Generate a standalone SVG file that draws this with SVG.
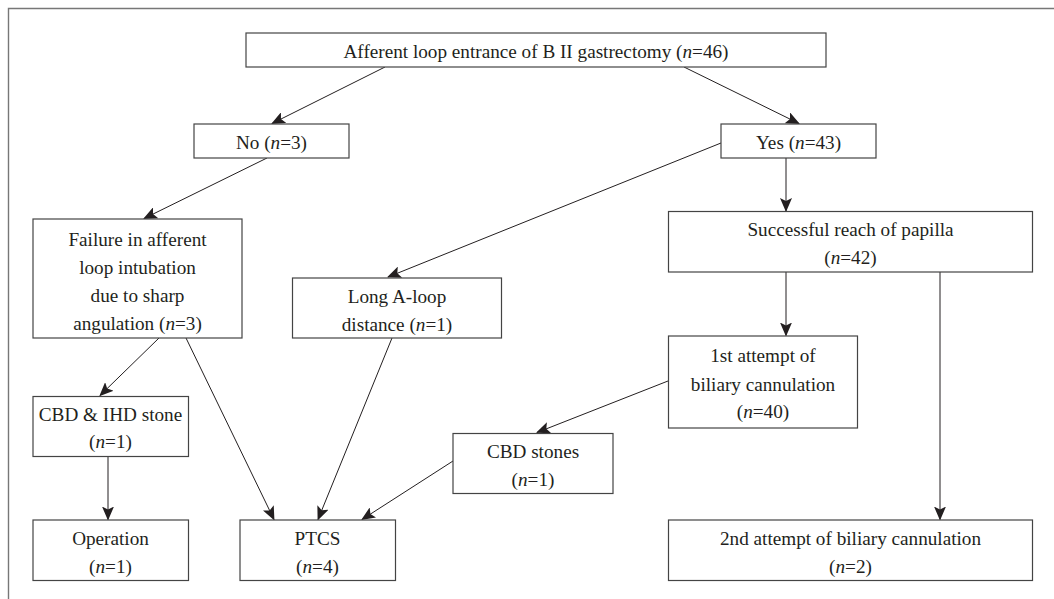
<svg xmlns="http://www.w3.org/2000/svg" width="1054" height="599" viewBox="0 0 1054 599">
<style>
.box{fill:#fff;stroke:#444;stroke-width:1.2}
.t{font-family:"Liberation Serif","Times New Roman",serif;font-size:19.2px;fill:#231f20;text-anchor:middle}
.i{font-style:italic}
.c{stroke:#231f20;stroke-width:1;fill:none;marker-end:url(#ah)}
.frame{stroke:#777;stroke-width:1.4;fill:none}
</style>
<defs>
<marker id="ah" viewBox="0 0 14 12" refX="13" refY="6" markerWidth="14" markerHeight="12" markerUnits="userSpaceOnUse" orient="auto">
<path d="M0,0 L14,6 L0,12 L3,6 Z" fill="#231f20"/>
</marker>
</defs>
<rect width="1054" height="599" fill="#fff"/>
<path class="frame" d="M8.5,600 V8.5 H1055"/>
<g id="connectors">
<line class="c" x1="385" y1="67" x2="272" y2="123.5"/>
<line class="c" x1="684" y1="67" x2="799" y2="123.5"/>
<line class="c" x1="267" y1="158" x2="144" y2="218.5"/>
<line class="c" x1="721" y1="143" x2="388" y2="277"/>
<line class="c" x1="786" y1="158" x2="786" y2="211"/>
<line class="c" x1="786" y1="272" x2="786" y2="335.5"/>
<line class="c" x1="940" y1="272" x2="940" y2="519.5"/>
<line class="c" x1="668" y1="381" x2="537" y2="432.5"/>
<line class="c" x1="159" y1="338" x2="100" y2="395.5"/>
<line class="c" x1="186" y1="338" x2="274" y2="519.5"/>
<line class="c" x1="392" y1="338" x2="318" y2="519.5"/>
<line class="c" x1="453" y1="461" x2="362" y2="519.5"/>
<line class="c" x1="108" y1="456" x2="108" y2="519.5"/>
</g>
<g id="n_top">
<rect class="box" x="246" y="33" width="580" height="34"/>
<text class="t" x="536" y="58">Afferent loop entrance of B II gastrectomy (<tspan class="i">n</tspan>=46)</text>
</g>
<g id="n_no">
<rect class="box" x="194" y="124" width="155" height="34"/>
<text class="t" x="271.5" y="149">No (<tspan class="i">n</tspan>=3)</text>
</g>
<g id="n_yes">
<rect class="box" x="721" y="124" width="155" height="34"/>
<text class="t" x="798.5" y="149">Yes (<tspan class="i">n</tspan>=43)</text>
</g>
<g id="n_failure">
<rect class="box" x="33" y="219" width="209" height="119"/>
<text class="t" x="137.5" y="245.5">Failure in afferent</text>
<text class="t" x="137.5" y="273.5">loop intubation</text>
<text class="t" x="137.5" y="301.5">due to sharp</text>
<text class="t" x="137.5" y="329.5">angulation (<tspan class="i">n</tspan>=3)</text>
</g>
<g id="n_long">
<rect class="box" x="292.5" y="278" width="209" height="60"/>
<text class="t" x="397" y="303">Long A-loop</text>
<text class="t" x="397" y="331">distance (<tspan class="i">n</tspan>=1)</text>
</g>
<g id="n_success">
<rect class="box" x="668.5" y="211.5" width="364" height="60.5"/>
<text class="t" x="850.5" y="236">Successful reach of papilla</text>
<text class="t" x="850.5" y="263.5">(<tspan class="i">n</tspan>=42)</text>
</g>
<g id="n_first">
<rect class="box" x="668.5" y="336" width="189" height="92"/>
<text class="t" x="763" y="362">1st attempt of</text>
<text class="t" x="763" y="390.5">biliary cannulation</text>
<text class="t" x="763" y="418">(<tspan class="i">n</tspan>=40)</text>
</g>
<g id="n_cbd">
<rect class="box" x="453" y="433.5" width="160" height="60"/>
<text class="t" x="533" y="457.5">CBD stones</text>
<text class="t" x="533" y="485.5">(<tspan class="i">n</tspan>=1)</text>
</g>
<g id="n_cbdihd">
<rect class="box" x="33" y="396.5" width="155.5" height="60"/>
<text class="t" x="110.5" y="420.5">CBD &amp; IHD stone</text>
<text class="t" x="110.5" y="448">(<tspan class="i">n</tspan>=1)</text>
</g>
<g id="n_operation">
<rect class="box" x="33" y="520" width="155.5" height="60.5"/>
<text class="t" x="110.5" y="545">Operation</text>
<text class="t" x="110.5" y="572.5">(<tspan class="i">n</tspan>=1)</text>
</g>
<g id="n_ptcs">
<rect class="box" x="240" y="520" width="155.5" height="60.5"/>
<text class="t" x="317.5" y="545">PTCS</text>
<text class="t" x="317.5" y="572.5">(<tspan class="i">n</tspan>=4)</text>
</g>
<g id="n_second">
<rect class="box" x="668.5" y="520" width="364" height="60.5"/>
<text class="t" x="850.5" y="545">2nd attempt of biliary cannulation</text>
<text class="t" x="850.5" y="572.5">(<tspan class="i">n</tspan>=2)</text>
</g>
</svg>
